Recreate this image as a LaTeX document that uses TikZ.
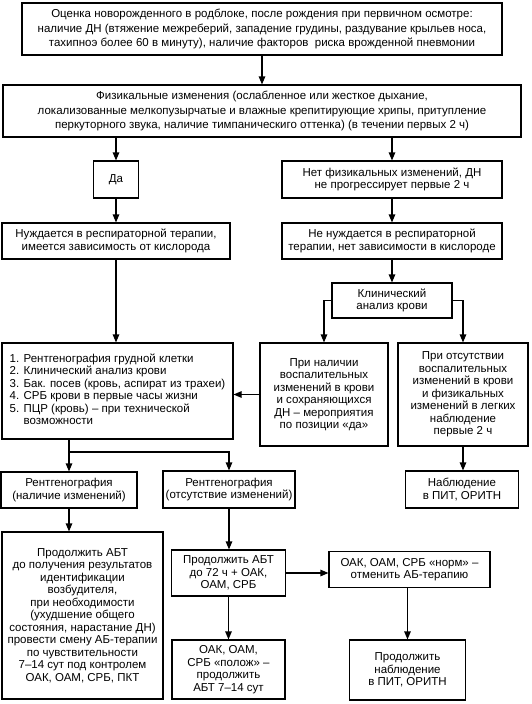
\documentclass[tikz,border=0pt]{standalone}
\usepackage{fontspec}
\setmainfont{Liberation Sans}
\usetikzlibrary{arrows.meta}
\begin{document}
\begin{tikzpicture}[x=1pt,y=-1pt,
  box/.style={draw, line width=1.1pt, inner sep=0pt, align=center,
    font=\fontsize{11.5}{12.5}\selectfont},
  bigbox/.style={box, font=\fontsize{11.5}{14.8}\selectfont},
  arr/.style={line width=1.1pt, -{Triangle[length=8pt,width=6.5pt]}},
  ln/.style={line width=1.1pt}]
\useasboundingbox (0,0) rectangle (531,704);
% boxes
\node[bigbox, minimum width=480, minimum height=52] (b1) at (262,29)
 {Оценка новорожденного в родблоке, после рождения при первичном осмотре:\\
  наличие ДН (втяжение межреберий, западение грудины, раздувание крыльев носа,\\
  тахипноэ более 60 в минуту), наличие факторов\ \ риска врожденной пневмонии};
\node[bigbox, minimum width=518, minimum height=52] (b2) at (262,111)
 {Физикальные изменения (ослабленное или жесткое дыхание,\\
  локализованные мелкопузырчатые и влажные крепитирующие хрипы, притупление\\
  перкуторного звука, наличие тимпаническиго оттенка) (в течении первых 2 ч)};
\node[box, minimum width=45, minimum height=37] (da) at (116,179.5) {Да};
\node[box, minimum width=220, minimum height=37] (net) at (392,179.5)
 {Нет физикальных изменений, ДН\\ не прогрессирует первые 2 ч};
\node[box, minimum width=228, minimum height=36] (nuzh) at (116,241)
 {Нуждается в респираторной терапии,\\ имеется зависимость от кислорода};
\node[box, minimum width=220, minimum height=36] (nenuzh) at (392,241)
 {Не нуждается в респираторной\\ терапии, нет зависимости в кислороде};
\node[box, minimum width=120, minimum height=35] (clin) at (392,300.5)
 {Клинический\\ анализ крови};
\node[box, minimum width=231, minimum height=96, align=left] (list) at (117.5,391)
 {\hspace*{7pt}\begin{tabular}{@{}l@{}}
  1. Рентгенография грудной клетки\\
  2. Клинический анализ крови\\
  3. Бак. посев (кровь, аспират из трахеи)\\
  4. СРБ крови в первые часы жизни\\
  5. ПЦР (кровь) – при технической\\
  \phantom{5. }возможности
  \end{tabular}\hspace*{7pt}};
\node[box, minimum width=128, minimum height=103] (nal) at (324,394.5)
 {При наличии\\ воспалительных\\ изменений в крови\\ и сохраняющихся\\ ДН – мероприятия\\ по позиции «да»};
\node[box, minimum width=130, minimum height=103] (ots) at (463,394.5)
 {При отсутствии\\ воспалительных\\ изменений в крови\\ и физикальных\\ изменений в легких\\ наблюдение\\ первые 2 ч};
\node[box, minimum width=136, minimum height=36] (r1) at (69,490)
 {Рентгенография\\ (наличие изменений)};
\node[box, minimum width=132, minimum height=37] (r2) at (229,489.5)
 {Рентгенография\\ (отсутствие изменений)};
\node[box, minimum width=113, minimum height=37] (nab) at (462,489.5)
 {Наблюдение\\ в ПИТ, ОРИТН};
\node[box, minimum width=161, minimum height=167] (abt1) at (82.5,615.5)
 {Продолжить АБТ\\ до получения результатов\\ идентификации\\ возбудителя,\\ при необходимости\\ (ухудшение общего\\ состояния, нарастание ДН)\\ провести смену АБ-терапии\\ по чувствительности\\ 7–14 сут под контролем\\ ОАК, ОАМ, СРБ, ПКТ};
\node[box, minimum width=114, minimum height=46] (abt72) at (228.5,573)
 {Продолжить АБТ\\ до 72 ч + ОАК,\\ ОАМ, СРБ};
\node[box, minimum width=161, minimum height=36] (norm) at (409.5,569.5)
 {ОАК, ОАМ, СРБ «норм» –\\ отменить АБ-терапию};
\node[box, minimum width=113, minimum height=59] (polozh) at (228.5,669.5)
 {ОАК, ОАМ,\\ СРБ «полож» –\\ продолжить\\ АБТ 7–14 сут};
\node[box, minimum width=116, minimum height=60] (prod) at (407.5,670)
 {Продолжить\\ наблюдение\\ в ПИТ, ОРИТН};
% connectors
\draw[arr] (b1) -- (b2);
\draw[arr] (b2.south -| da.north) -- (da.north);
\draw[arr] (b2.south -| net.north) -- (net.north);
\draw[arr] (da) -- (nuzh);
\draw[arr] (net) -- (nenuzh);
\draw[arr] (nenuzh) -- (clin);
\draw[arr] (nuzh.south) -- (nuzh.south |- list.north);
\draw[arr] (clin.west) -| (nal.north);
\draw[arr] (clin.east) -| (ots.north);
\draw[arr] (nal.west) -- (nal.west -| list.east);
\draw[arr] (ots.south) -- (ots.south |- nab.north);
\coordinate (j) at (69,452);
\draw[ln] (list.south -| j) -- (j);
\draw[arr] (j) -- (r1.north);
\draw[arr] (j) -| (r2.north);
\draw[arr] (r1.south) -- (r1.south |- abt1.north);
\draw[arr] (r2.south) -- (r2.south |- abt72.north);
\draw[arr] (abt72.east) -- (abt72.east -| norm.west);
\draw[arr] (abt72) -- (polozh);
\draw[arr] (norm.south -| prod.north) -- (prod.north);
\end{tikzpicture}
\end{document}
